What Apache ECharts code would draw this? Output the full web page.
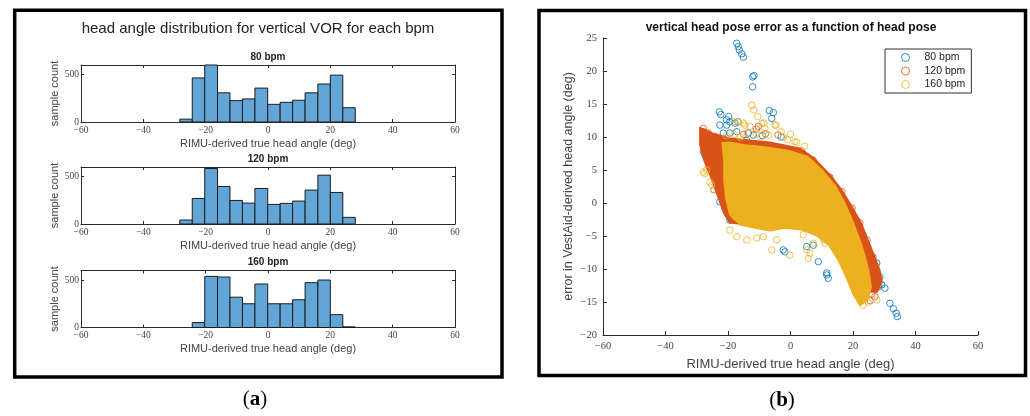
<!DOCTYPE html>
<html><head><meta charset="utf-8">
<script src="https://cdn.jsdelivr.net/npm/echarts@6/dist/echarts.min.js"></script>
<style>html,body{margin:0;padding:0;background:#fff}#c{width:1030px;height:416px}</style>
</head><body><div id="c"></div>
<script>
// ---------- data ----------
const BIN_EDGES = [-28.3,-24.3,-20.3,-16.2,-12.2,-8.2,-4.2,-0.1,3.9,7.9,11.9,16.0,20.0,24.0,28.0];
const COUNTS_80  = [30, 464, 600, 307, 225, 243, 357, 186, 207, 229, 307, 400, 493, 150];
const COUNTS_120 = [42, 269, 584, 395, 248, 220, 374, 206, 217, 241, 357, 514, 332, 70];
const COUNTS_160 = [0, 52, 538, 531, 319, 250, 458, 250, 250, 292, 472, 500, 135, 7];
const HIST_TITLES = ['80 bpm', '120 bpm', '160 bpm'];
const SERIES_NAMES = ['80 bpm', '120 bpm', '160 bpm'];

const BLUE_PTS = [
[-17.2,24.2],[-16.7,23.7],[-16.4,23.2],[-15.6,22.6],[-15.1,22.1],
[-12.1,19.1],[-11.7,19.3],[-12.1,17.6],
[-22.8,13.8],[-22.3,13.4],[-19.8,13.1],[-20.5,12.6],[-22.6,11.8],[-20.4,11.8],[-19.4,12.3],[-16.8,12.3],[-17.8,12.1],
[-21.5,10.6],[-19.4,10.6],[-17.2,10.8],[-14.0,9.5],[-6.8,14.0],[-5.5,13.7],[-6.0,12.8],[-11.9,10.3],[-24.2,10.0],
[-27.9,7.8],[-27.4,7.3],[-13.5,10.6],[-9.0,10.2],[-3.0,10.0],[-25.5,9.6],
[-22.6,0.2],[-21.0,-0.8],[-19.4,-2.6],
[-2.3,-7.1],[-1.8,-7.4],[5.2,-6.6],[7.3,-6.4],[8.9,-8.9],[11.6,-10.6],[12.1,-11.4],[11.6,-10.9],
[27.6,-9.1],[28.6,-11.2],[27.0,-11.9],[28.1,-12.7],[29.2,-12.4],[30.2,-12.9],[31.8,-15.2],[32.9,-16.0],[33.8,-16.7],[34.2,-17.2]
];
const ORANGE_PTS = [
[-27.9,11.3],[-27.7,10.8],[-26.3,10.6],[-24.7,9.0],[-10.3,11.6],[-10.9,11.2],[-8.0,10.5],[-4.0,10.3],[-15.0,10.4],
[7.2,6.5],[12.6,3.9],[16.5,1.7],[19.7,-0.8],[22.2,-3.0],[24.5,-5.6],[26.4,-8.2],[3.5,7.9],
[26.0,-13.8],[27.0,-14.2],[25.5,-14.8],[-26.0,5.5],[-24.5,2.0]
];
const YELLOW_PTS = [
[-12.4,14.8],[-11.7,14.1],[-10.5,13.1],[-9.2,12.1],[-15.1,12.1],[-13.0,11.6],[-8.5,12.1],[-8.2,11.3],[-4.6,11.8],
[-18.1,12.3],[-16.7,12.3],[-14.6,11.8],[-5.0,11.8],[-2.3,10.0],[1.4,9.3],
[-26.8,5.0],[-25.2,2.7],[-27.9,4.7],[-27.4,4.5],[-25.8,3.2],
[-20.5,10.2],[-18.0,10.4],[-16.0,10.0],[-13.8,10.6],[-11.0,10.5],[-9.5,10.0],[-7.0,10.3],[-1.0,9.6],[2.0,9.2],[4.5,8.6],[0.0,10.4],[-3.0,10.8],
[-19.4,-4.1],[-17.2,-5.1],[-14.0,-5.6],[-10.8,-5.3],[-8.7,-5.1],[-4.4,-5.6],[-0.2,-7.9],[-6.0,-7.1],[5.2,-7.1],[5.7,-8.4],
[7.3,-6.1],[10.5,-5.6],[4.1,-4.8],[6.2,-7.6],[11.0,-6.1],
[22.8,-14.7],[24.9,-15.0],[27.6,-14.7],[23.2,-15.5]
];
// dense regions (outline of overlapping markers)
const ORANGE_CORE = [
[-29.0,11.4],[-25.1,10.6],[-19.4,9.8],[-6.6,9.2],[3.0,8.3],[7.5,6.8],[13.0,4.1],[16.8,1.7],[20.0,-0.8],[22.6,-3.0],
[24.8,-5.6],[27.0,-8.2],[28.6,-10.2],[29.3,-12.0],[27.7,-13.5],[24.5,-13.5],[21.6,-11.7],[12.6,-5.6],[3.0,-3.6],
[-16.0,-3.2],[-19.4,-3.0],[-21.3,-1.6],[-23.2,0.9],[-25.4,3.8],[-27.7,6.5],[-29.0,8.8]
];
const YELLOW_CORE = [
[-21.9,9.1],[-19.4,9.2],[-14.6,8.8],[-8.2,8.5],[-0.2,7.9],[5.6,7.0],[10.1,5.0],[14.2,2.7],[17.4,0.0],[20.0,-2.9],
[22.2,-5.6],[23.8,-8.0],[25.1,-10.5],[25.8,-12.7],[24.8,-14.7],[22.2,-15.5],[20.0,-13.8],[17.8,-11.2],[15.2,-8.6],
[12.3,-6.4],[8.5,-5.0],[4.0,-4.1],[-1.8,-3.8],[-6.6,-4.2],[-11.4,-3.8],[-16.2,-3.3],[-19.4,-1.8],[-20.6,0.5],[-21.3,3.5],[-21.3,6.5]
];

// ---------- styling / layout ----------
const SANS = "'Liberation Sans', Arial, sans-serif";
const SERIF = "'Liberation Serif', 'DejaVu Serif', serif";
const AX = '#2b2b2b';
const COLORS = ['#0072BD', '#D95319', '#EDB120'];
const fmtTick = v => v < 0 ? '\u2212' + Math.abs(v) : String(v);
const HIST_TOPS = [65, 167, 270.5];
const HIST_COUNTS = [COUNTS_80, COUNTS_120, COUNTS_160];

const grid = [], xAxis = [], yAxis = [], series = [], title = [];

function histRender(params, api) {
  const c = api.value(2);
  if (!c) return null;
  const a = api.coord([api.value(0), 0]);
  const b = api.coord([api.value(1), c]);
  return { type: 'rect', shape: { x: a[0], y: b[1], width: b[0] - a[0], height: a[1] - b[1] },
    style: { fill: '#62A6D8', stroke: '#1c1c1c', lineWidth: 1 } };
}

for (let i = 0; i < 3; i++) {
  grid.push({ left: 81, width: 374, top: HIST_TOPS[i], height: 57 });
  const xb = { type: 'value', gridIndex: i, min: -60, max: 60, interval: 20,
    axisLine: { show: true, onZero: false, lineStyle: { color: AX, width: 1 } },
    axisTick: { show: true, inside: true, length: 3, lineStyle: { color: AX } },
    splitLine: { show: false } };
  xAxis.push(Object.assign({}, xb, { position: 'bottom',
    axisLabel: { formatter: fmtTick, fontFamily: SERIF, fontSize: 9.5, color: '#444', margin: 3 },
    name: 'RIMU-derived true head angle (deg)', nameLocation: 'middle', nameGap: 16,
    nameTextStyle: { fontFamily: SANS, fontSize: 11, color: '#444' } }));
  xAxis.push(Object.assign({}, xb, { position: 'top', axisLabel: { show: false } }));
  const yb = { type: 'value', gridIndex: i, min: 0, max: 600, interval: 500,
    axisLine: { show: true, onZero: false, lineStyle: { color: AX, width: 1 } },
    axisTick: { show: true, inside: true, length: 3, lineStyle: { color: AX } },
    splitLine: { show: false } };
  yAxis.push(Object.assign({}, yb, { position: 'left',
    axisLabel: { showMaxLabel: false, fontFamily: SERIF, fontSize: 9.5, color: '#444', margin: 2 },
    name: 'sample count', nameLocation: 'middle', nameGap: 20,
    nameTextStyle: { fontFamily: SANS, fontSize: 11, color: '#444' } }));
  yAxis.push(Object.assign({}, yb, { position: 'right', axisLabel: { show: false } }));
  series.push({ type: 'custom', name: 'hist' + i, xAxisIndex: 2 * i, yAxisIndex: 2 * i,
    data: HIST_COUNTS[i].map((c, k) => [BIN_EDGES[k], BIN_EDGES[k + 1], c]),
    encode: { x: [0, 1], y: 2 }, renderItem: histRender, silent: true });
  title.push({ text: HIST_TITLES[i], left: 268, top: HIST_TOPS[i] - 13, textAlign: 'center', padding: 0,
    textStyle: { fontFamily: SANS, fontSize: 10, fontWeight: 'bold', color: '#222' } });
}

// scatter panel (grid 3, xAxis 6, yAxis 6)
const SX = 6, SY = 6;
grid.push({ left: 603, width: 375, top: 38, height: 297 });
xAxis.push({ type: 'value', gridIndex: 3, min: -60, max: 60, interval: 20,
  axisLine: { show: true, onZero: false, lineStyle: { color: AX, width: 1 } },
  axisTick: { show: true, inside: true, length: 4, lineStyle: { color: AX } },
  splitLine: { show: false },
  axisLabel: { formatter: fmtTick, fontFamily: SERIF, fontSize: 10.5, color: '#444', margin: 6 },
  name: 'RIMU-derived true head angle (deg)', nameLocation: 'middle', nameGap: 23,
  nameTextStyle: { fontFamily: SANS, fontSize: 13, color: '#444' } });
yAxis.push({ type: 'value', gridIndex: 3, min: -20, max: 25, interval: 5,
  axisLine: { show: true, onZero: false, lineStyle: { color: AX, width: 1 } },
  axisTick: { show: true, inside: true, length: 4, lineStyle: { color: AX } },
  splitLine: { show: false },
  axisLabel: { formatter: fmtTick, fontFamily: SERIF, fontSize: 10.5, color: '#444', margin: 6 },
  name: 'error in VestAid-derived head angle (deg)', nameLocation: 'middle', nameGap: 28,
  nameTextStyle: { fontFamily: SANS, fontSize: 12.5, color: '#444' } });

function coreRender(points, color) {
  return function (params, api) {
    if (params.dataIndex !== 0) return null;
    return { type: 'polygon', shape: { points: points.map(p => api.coord(p)) },
      style: { fill: color, stroke: color, lineWidth: 1.5, lineJoin: 'round' } };
  };
}
function scatter(name, pts, color, z) {
  return { type: 'scatter', name: name, xAxisIndex: SX, yAxisIndex: SY, data: pts, symbol: 'circle', symbolSize: 6.5,
    itemStyle: { color: 'rgba(255,255,255,0)', borderColor: color, borderWidth: 1 }, z: z, silent: true };
}
series.push(scatter(SERIES_NAMES[0], BLUE_PTS, COLORS[0], 2));
series.push({ type: 'custom', name: 'dense120', xAxisIndex: SX, yAxisIndex: SY, data: ORANGE_CORE,
  encode: { x: 0, y: 1 }, renderItem: coreRender(ORANGE_CORE, COLORS[1]), z: 3, silent: true });
series.push(scatter(SERIES_NAMES[1], ORANGE_PTS, COLORS[1], 4));
series.push({ type: 'custom', name: 'dense160', xAxisIndex: SX, yAxisIndex: SY, data: YELLOW_CORE,
  encode: { x: 0, y: 1 }, renderItem: coreRender(YELLOW_CORE, COLORS[2]), z: 5, silent: true });
series.push(scatter(SERIES_NAMES[2], YELLOW_PTS, COLORS[2], 6));

title.push({ text: 'head angle distribution for vertical VOR for each bpm', left: 258, top: 21.5, textAlign: 'center', padding: 0,
  textStyle: { fontFamily: SANS, fontSize: 15, fontWeight: 'normal', color: '#222' } });
title.push({ text: 'vertical head pose error as a function of head pose', left: 791, top: 22, textAlign: 'center', padding: 0,
  textStyle: { fontFamily: SANS, fontSize: 12, fontWeight: 'bold', color: '#111' } });
const capRich = { p: { fontFamily: SERIF, fontSize: 21, fontWeight: 'normal', color: '#000' }, b: { fontFamily: SERIF, fontSize: 21, fontWeight: 'bold', color: '#000' } };
title.push({ text: '{p|(}{b|a}{p|)}', left: 255, top: 389, textAlign: 'center', padding: 0, textStyle: { fontWeight: 'normal', rich: capRich } });
title.push({ text: '{p|(}{b|b}{p|)}', left: 782, top: 390, textAlign: 'center', padding: 0, textStyle: { fontWeight: 'normal', rich: capRich } });

const option = {
  animation: false,
  backgroundColor: '#fff',
  title: title,
  grid: grid, xAxis: xAxis, yAxis: yAxis, series: series,
  legend: {
    orient: 'vertical', left: 885, top: 49, itemWidth: 8, itemHeight: 8, itemGap: 2.5,
    padding: [3, 6, 3, 16], borderColor: '#333', borderWidth: 1, backgroundColor: '#fff', selectedMode: false,
    textStyle: { fontFamily: SANS, fontSize: 10.5, color: '#222', padding: [0, 0, 0, 10] },
    data: SERIES_NAMES.map((n, k) => ({ name: n, icon: 'circle',
      itemStyle: { color: 'rgba(255,255,255,0)', borderColor: COLORS[k], borderWidth: 1 } }))
  },
  graphic: [
    { type: 'rect', shape: { x: 14.7, y: 10.3, width: 487.3, height: 366.7 }, style: { fill: null, stroke: '#000', lineWidth: 3.5 }, z: 100, silent: true },
    { type: 'rect', shape: { x: 539, y: 10.5, width: 486.5, height: 365 }, style: { fill: null, stroke: '#000', lineWidth: 3.5 }, z: 100, silent: true }
  ]
};
const chart = echarts.init(document.getElementById('c'), null, { renderer: 'canvas' });
chart.setOption(option);
</script>
</body></html>
